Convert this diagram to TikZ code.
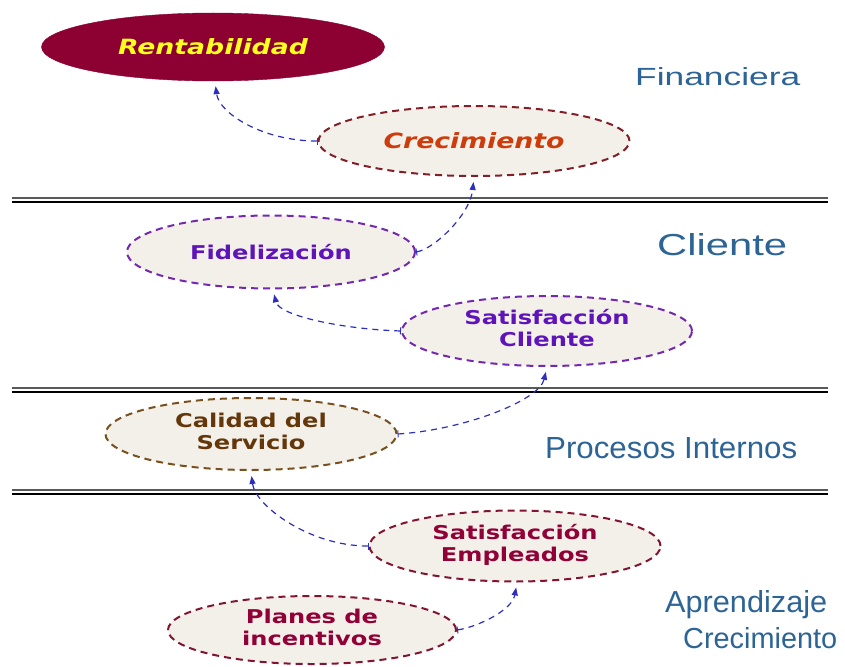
\documentclass[tikz,border=0pt]{standalone}
\usepackage{fontspec}
\usepackage{graphicx}
\usetikzlibrary{shapes.geometric,arrows.meta}
\newfontfamily\nodefont{DejaVu Sans}
\newfontfamily\labfont{Liberation Sans}
\definecolor{renfill}{RGB}{140,0,50}
\definecolor{renText}{RGB}{255,255,30}
\definecolor{ellfill}{RGB}{243,240,233}
\definecolor{creText}{RGB}{205,60,10}
\definecolor{creLine}{RGB}{130,30,40}
\definecolor{purLine}{RGB}{115,40,175}
\definecolor{purText}{RGB}{95,20,185}
\definecolor{brnLine}{RGB}{120,80,30}
\definecolor{brnText}{RGB}{100,55,10}
\definecolor{redLine}{RGB}{130,20,50}
\definecolor{redText}{RGB}{145,0,55}
\definecolor{arrowBlue}{RGB}{45,45,190}
\definecolor{labBlue}{RGB}{45,100,150}
\newcommand\sx[1]{\scalebox{1.27}[1]{#1}}
\newcommand\two[2]{\sx{\begin{tabular}{@{}c@{}}#1\\#2\end{tabular}}}
\newcommand\lab[3]{\resizebox{#1pt}{#2pt}{\labfont #3}}
\begin{document}
\begin{tikzpicture}[x=1pt,y=-1pt,
  ell/.style={ellipse, inner sep=0pt, fill=ellfill, line width=2pt,
     dash pattern=on 7pt off 5pt},
  plain/.style={font=\nodefont\bfseries\fontsize{19}{22}\selectfont},
  ital/.style={font=\nodefont\bfseries\itshape\fontsize{21}{24}\selectfont},
  conn/.style={draw=arrowBlue, line width=1.2pt, dash pattern=on 6pt off 5pt,
     {Bar[width=7pt,line width=1pt]}-{Triangle[length=8pt,width=6pt]},
     shorten >=5pt},
  sep/.style={line width=1.6pt},
  labtext/.style={anchor=base west, inner sep=0pt, text=labBlue}
]
\useasboundingbox (0,0) rectangle (845,666);
\fill[white] (0,0) rectangle (845,666);

% separators
\foreach \yy in {200,390,492}{
  \draw[sep, draw=black!65] (12,\yy-1.8) -- (828,\yy-1.8);
  \draw[sep, draw=black] (12,\yy+1.8) -- (828,\yy+1.8);
}

% nodes
\node[ellipse, inner sep=0pt, fill=renfill, draw=renfill, minimum width=343pt,
  minimum height=68pt, ital, text=renText] (ren) at (213,47) {\sx{Rentabilidad}};
\node[ell, draw=creLine, minimum width=311pt, minimum height=70pt, ital,
  text=creText] (cre) at (474,141) {\sx{Crecimiento}};
\node[ell, draw=purLine, minimum width=288pt, minimum height=73pt, plain,
  text=purText] (fid) at (271,252) {\sx{Fidelización}};
\node[ell, draw=purLine, minimum width=290pt, minimum height=70pt, plain,
  text=purText] (satc) at (547,331) {\two{Satisfacción}{Cliente}};
\node[ell, draw=brnLine, minimum width=291pt, minimum height=72pt, plain,
  text=brnText] (cal) at (251,434) {\two{Calidad del}{Servicio}};
\node[ell, draw=redLine, minimum width=291pt, minimum height=71pt, plain,
  text=redText] (sate) at (515,546) {\two{Satisfacción}{Empleados}};
\node[ell, draw=redLine, minimum width=288pt, minimum height=68pt, plain,
  text=redText] (pla) at (312,630) {\two{Planes de}{incentivos}};

% perspective labels
\node[labtext] (fin) at (635,86) {\lab{165}{18}{Financiera}};
\node[labtext] (cli) at (657,255) {\lab{130}{22}{Cliente}};
\node[labtext] (pro) at (545,458) {\lab{252}{21}{Procesos Internos}};
\node[labtext] (apr) at (665,612) {\lab{162}{22}{Aprendizaje}};
\node[labtext] (cre2) at (683,648) {\lab{154}{21}{Crecimiento}};

% connectors
\draw[conn] (cre.west) .. controls +(-55,0) and +(4,32) .. ([xshift=2pt]ren.south);
\draw[conn] (fid.east) .. controls +(18,-3) and +(-4,38) .. (cre.south);
\draw[conn] (satc.west) .. controls +(-60,-2) and +(6,26) .. ([xshift=2pt]fid.south);
\draw[conn] (cal.east) .. controls +(65,-4) and +(-8,34) .. (satc.south);
\draw[conn] (sate.west) .. controls +(-60,0) and +(4,34) .. (cal.south);
\draw[conn] (pla.east) .. controls +(20,-3) and +(-5,28) .. ([xshift=2pt]sate.south);
\end{tikzpicture}
\end{document}
